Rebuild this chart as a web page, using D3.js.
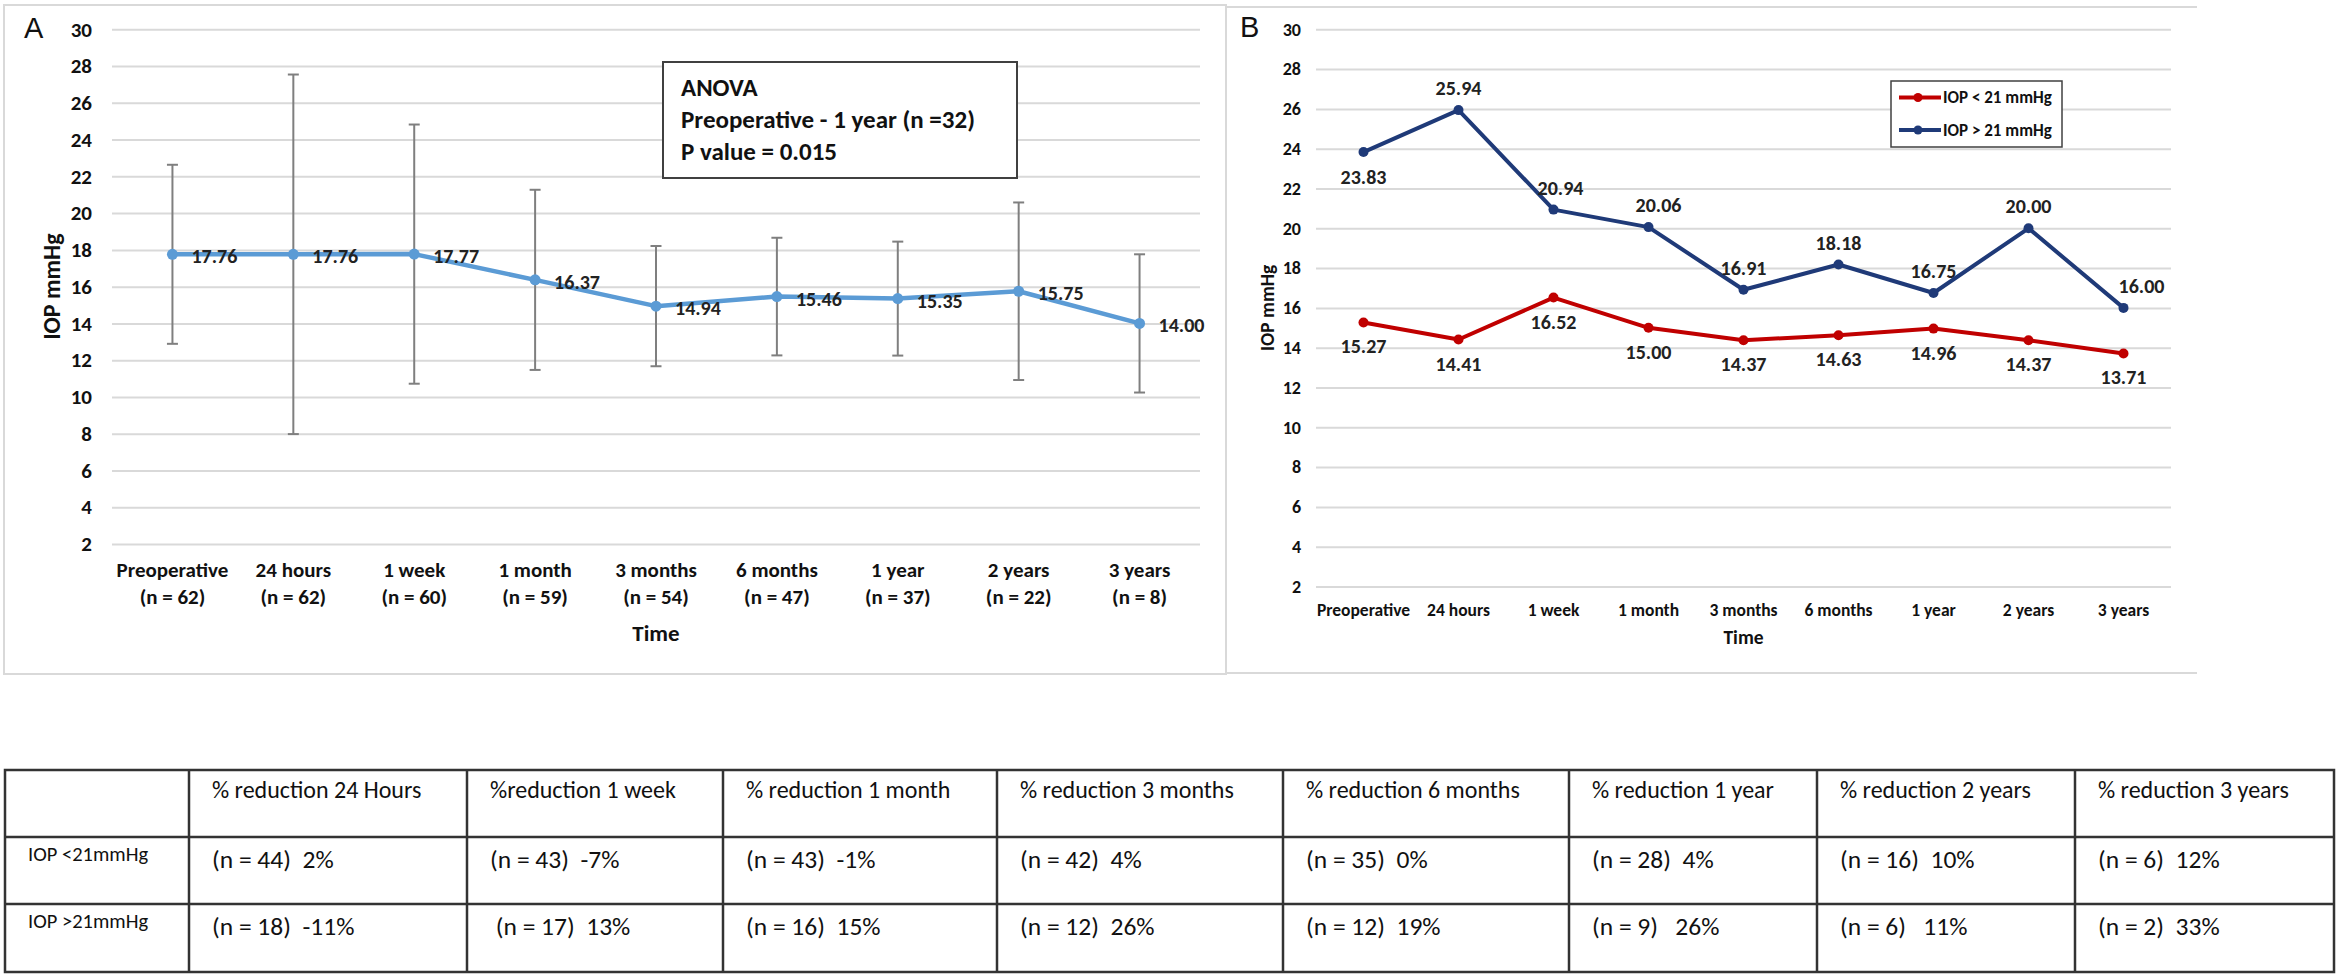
<!DOCTYPE html>
<html>
<head>
<meta charset="utf-8">
<script src="https://cdn.jsdelivr.net/npm/d3@7"></script>
<style>
  html, body { margin: 0; padding: 0; background: #fff; }
  svg { display: block; }
  text { font-family: Carlito, Lato, "Open Sans", sans-serif; }
</style>
</head>
<body>
<svg id="chart" width="2341" height="978"></svg>
<script>
// ---------------- DATA ----------------
const timepoints = ["Preoperative", "24 hours", "1 week", "1 month", "3 months", "6 months", "1 year", "2 years", "3 years"];
const nPatients = [62, 62, 60, 59, 54, 47, 37, 22, 8];
const meanIOP = [17.76, 17.76, 17.77, 16.37, 14.94, 15.46, 15.35, 15.75, 14.00];
const sdIOP = [4.87, 9.78, 7.05, 4.90, 3.27, 3.20, 3.10, 4.83, 3.76];
const yTicks = [2, 4, 6, 8, 10, 12, 14, 16, 18, 20, 22, 24, 26, 28, 30];

const seriesNames = ["IOP < 21 mmHg", "IOP > 21 mmHg"];
const lowIOP = [15.27, 14.41, 16.52, 15.00, 14.37, 14.63, 14.96, 14.37, 13.71];
const highIOP = [23.83, 25.94, 20.94, 20.06, 16.91, 18.18, 16.75, 20.00, 16.00];

const anovaLines = ["ANOVA", "Preoperative - 1 year (n =32)", "P value = 0.015"];

const tableHeaders = ["", "% reduction 24 Hours", "%reduction 1 week", "% reduction 1 month", "% reduction 3 months", "% reduction 6 months", "% reduction 1 year", "% reduction 2 years", "% reduction 3 years"];
const rowLabels = ["IOP <21mmHg", "IOP >21mmHg"];
const lowN = [44, 43, 43, 42, 35, 28, 16, 6];
const lowPct = ["2%", "-7%", "-1%", "4%", "0%", "4%", "10%", "12%"];
const highN = [18, 17, 16, 12, 12, 9, 6, 2];
const highPct = ["-11%", "13%", "15%", "26%", "19%", "26%", "11%", "33%"];

// ---------------- DRAW ----------------
const svg = d3.select("#chart");
svg.append("rect").attr("width", 2341).attr("height", 978).attr("fill", "#fff");

const GRID = "#d9d9d9";
const TXT = "#111";

// ===== Panel A =====
const gA = svg.append("g");
gA.append("rect").attr("x", 4).attr("y", 5).attr("width", 1222).attr("height", 669)
  .attr("fill", "none").attr("stroke", GRID).attr("stroke-width", 2);
gA.append("text").attr("x", 24).attr("y", 38).attr("font-size", 29).attr("fill", TXT)
  .style("font-family", "'Liberation Sans', Arial, sans-serif").text("A");

const xA = d3.scaleBand().domain(timepoints).range([112, 1200]);
const yA = d3.scaleLinear().domain([2, 30]).range([544, 29.3]);
const cxA = d => xA(d) + xA.bandwidth() / 2;

const axA = gA.append("g").attr("transform", "translate(112,0)")
  .call(d3.axisLeft(yA).tickValues(yTicks).tickSize(-(1200 - 112)).tickPadding(20));
axA.select(".domain").remove();
axA.selectAll(".tick line").attr("stroke", GRID).attr("stroke-width", 2);
axA.selectAll(".tick text").attr("font-size", 21).attr("font-weight", "bold").attr("fill", TXT)
  .style("font-family", "Carlito, Lato, sans-serif");

// x labels (two lines)
const xlA = gA.append("g").attr("transform", "translate(0,544)")
  .call(d3.axisBottom(xA).tickSize(0).tickFormat(""));
xlA.select(".domain").remove();
xlA.selectAll(".tick").each(function(d, i) {
  const g = d3.select(this);
  g.append("text").attr("text-anchor", "middle").attr("y", 33)
    .attr("font-size", 21).attr("font-weight", "bold").attr("fill", TXT).text(d);
  g.append("text").attr("text-anchor", "middle").attr("y", 60)
    .attr("font-size", 21).attr("font-weight", "bold").attr("fill", TXT).text("(n = " + nPatients[i] + ")");
});
gA.append("text").attr("x", (112 + 1200) / 2).attr("y", 641).attr("text-anchor", "middle")
  .attr("font-size", 23).attr("font-weight", "bold").attr("fill", TXT).text("Time");
gA.append("text").attr("transform", "translate(60," + ((29.3 + 544) / 2) + ") rotate(-90)")
  .attr("text-anchor", "middle").attr("font-size", 24).attr("font-weight", "bold").attr("fill", TXT)
  .text("IOP mmHg");

// error bars
const eb = gA.append("g").attr("stroke", "#7f7f7f").attr("stroke-width", 2);
timepoints.forEach((d, i) => {
  const x = cxA(d), y1 = yA(meanIOP[i] + sdIOP[i]), y2 = yA(meanIOP[i] - sdIOP[i]);
  eb.append("line").attr("x1", x).attr("x2", x).attr("y1", y1).attr("y2", y2);
  eb.append("line").attr("x1", x - 5.5).attr("x2", x + 5.5).attr("y1", y1).attr("y2", y1);
  eb.append("line").attr("x1", x - 5.5).attr("x2", x + 5.5).attr("y1", y2).attr("y2", y2);
});

const lineA = d3.line().x((d, i) => cxA(timepoints[i])).y(d => yA(d));
gA.append("path").datum(meanIOP).attr("d", lineA).attr("fill", "none")
  .attr("stroke", "#5b9bd5").attr("stroke-width", 4.5).attr("stroke-linejoin", "round");
gA.selectAll(".ptA").data(meanIOP).join("circle")
  .attr("cx", (d, i) => cxA(timepoints[i])).attr("cy", d => yA(d)).attr("r", 5.5).attr("fill", "#5b9bd5");
gA.selectAll(".lblA").data(meanIOP).join("text")
  .attr("x", (d, i) => cxA(timepoints[i]) + 19).attr("y", d => yA(d) + 2)
  .attr("dominant-baseline", "central").attr("font-size", 20).attr("font-weight", "bold")
  .attr("fill", "#222").text(d => d.toFixed(2));

// ANOVA box
gA.append("rect").attr("x", 663).attr("y", 62).attr("width", 354).attr("height", 116)
  .attr("fill", "#fff").attr("stroke", "#404040").attr("stroke-width", 2);
anovaLines.forEach((s, i) => {
  gA.append("text").attr("x", 681).attr("y", 96 + i * 32).attr("font-size", 25)
    .attr("font-weight", "bold").attr("fill", TXT).text(s);
});

// ===== Panel B =====
const gB = svg.append("g");
gB.append("line").attr("x1", 1226).attr("x2", 2197).attr("y1", 7).attr("y2", 7).attr("stroke", GRID).attr("stroke-width", 2);
gB.append("line").attr("x1", 1226).attr("x2", 2197).attr("y1", 673).attr("y2", 673).attr("stroke", GRID).attr("stroke-width", 2);
gB.append("text").attr("x", 1240).attr("y", 37).attr("font-size", 29).attr("fill", TXT)
  .style("font-family", "'Liberation Sans', Arial, sans-serif").text("B");

const xB = d3.scaleBand().domain(timepoints).range([1316, 2171]);
const yB = d3.scaleLinear().domain([2, 30]).range([586.5, 29.3]);
const cxB = d => xB(d) + xB.bandwidth() / 2;

const axB = gB.append("g").attr("transform", "translate(1316,0)")
  .call(d3.axisLeft(yB).tickValues(yTicks).tickSize(-(2171 - 1316)).tickPadding(15));
axB.select(".domain").remove();
axB.selectAll(".tick line").attr("stroke", GRID).attr("stroke-width", 2);
axB.selectAll(".tick text").attr("font-size", 18).attr("font-weight", "bold").attr("fill", TXT)
  .style("font-family", "Carlito, Lato, sans-serif");

const xlB = gB.append("g").attr("transform", "translate(0,586.5)")
  .call(d3.axisBottom(xB).tickSize(0).tickPadding(17));
xlB.select(".domain").remove();
xlB.selectAll(".tick text").attr("font-size", 17.5).attr("font-weight", "bold").attr("fill", TXT)
  .style("font-family", "Carlito, Lato, sans-serif");
gB.append("text").attr("x", (1316 + 2171) / 2).attr("y", 644).attr("text-anchor", "middle")
  .attr("font-size", 19.5).attr("font-weight", "bold").attr("fill", TXT).text("Time");
gB.append("text").attr("transform", "translate(1274," + ((29.3 + 586.5) / 2) + ") rotate(-90)")
  .attr("text-anchor", "middle").attr("font-size", 19.5).attr("font-weight", "bold").attr("fill", TXT)
  .text("IOP mmHg");

const colors = ["#c00000", "#1f3a78"];
const lineB = d3.line().x((d, i) => cxB(timepoints[i])).y(d => yB(d));
[lowIOP, highIOP].forEach((vals, s) => {
  gB.append("path").datum(vals).attr("d", lineB).attr("fill", "none")
    .attr("stroke", colors[s]).attr("stroke-width", 4).attr("stroke-linejoin", "round");
  gB.selectAll(".pt" + s).data(vals).join("circle")
    .attr("cx", (d, i) => cxB(timepoints[i])).attr("cy", d => yB(d)).attr("r", 5).attr("fill", colors[s]);
});
// labels
gB.selectAll(".lblLow").data(lowIOP).join("text")
  .attr("x", (d, i) => cxB(timepoints[i])).attr("y", d => yB(d) + 24)
  .attr("text-anchor", "middle").attr("dominant-baseline", "central")
  .attr("font-size", 20).attr("font-weight", "bold").attr("fill", "#222").text(d => d.toFixed(2));
const hiDx = [0, 0, 7, 10, 0, 0, 0, 0, 18];
gB.selectAll(".lblHigh").data(highIOP).join("text")
  .attr("x", (d, i) => cxB(timepoints[i]) + hiDx[i]).attr("y", (d, i) => yB(d) + (i === 0 ? 25 : -22))
  .attr("text-anchor", "middle").attr("dominant-baseline", "central")
  .attr("font-size", 20).attr("font-weight", "bold").attr("fill", "#222").text(d => d.toFixed(2));

// legend
const lg = gB.append("g");
lg.append("rect").attr("x", 1891).attr("y", 81).attr("width", 171).attr("height", 66)
  .attr("fill", "#fff").attr("stroke", "#404040").attr("stroke-width", 1.5);
seriesNames.forEach((s, i) => {
  const y = 97.5 + i * 32.5;
  lg.append("line").attr("x1", 1899).attr("x2", 1941).attr("y1", y).attr("y2", y)
    .attr("stroke", colors[i]).attr("stroke-width", 4);
  lg.append("circle").attr("cx", 1918).attr("cy", y).attr("r", 4.5).attr("fill", colors[i]);
  lg.append("text").attr("x", 1943).attr("y", y).attr("dominant-baseline", "central")
    .attr("font-size", 17).attr("font-weight", "bold").attr("fill", TXT).text(s);
});

// ===== Table =====
const colEdges = [5, 189, 467, 723, 997, 1283, 1569, 1817, 2075, 2334];
const rowEdges = [770, 837, 904, 972];
const gT = svg.append("g");
gT.append("rect").attr("x", colEdges[0]).attr("y", rowEdges[0])
  .attr("width", colEdges[colEdges.length - 1] - colEdges[0]).attr("height", rowEdges[3] - rowEdges[0])
  .attr("fill", "none").attr("stroke", "#333").attr("stroke-width", 2.5);
colEdges.slice(1, -1).forEach(x => gT.append("line").attr("x1", x).attr("x2", x)
  .attr("y1", rowEdges[0]).attr("y2", rowEdges[3]).attr("stroke", "#333").attr("stroke-width", 2.5));
rowEdges.slice(1, -1).forEach(y => gT.append("line").attr("x1", colEdges[0]).attr("x2", colEdges[colEdges.length - 1])
  .attr("y1", y).attr("y2", y).attr("stroke", "#333").attr("stroke-width", 2.5));

tableHeaders.forEach((h, c) => {
  if (!h) return;
  gT.append("text").attr("x", colEdges[c] + 23).attr("y", 789).attr("dominant-baseline", "central")
    .attr("font-size", 24).attr("fill", TXT).style("font-family", "Carlito, Lato, sans-serif").text(h);
});
rowLabels.forEach((r, i) => {
  gT.append("text").attr("x", 28).attr("y", 854 + i * 67).attr("dominant-baseline", "central")
    .attr("font-size", 20.5).attr("fill", TXT).text(r);
});
lowN.forEach((n, c) => {
  gT.append("text").attr("x", colEdges[c + 1] + 23).attr("y", 859).attr("dominant-baseline", "central")
    .attr("font-size", 25.5).attr("fill", TXT).style("white-space", "pre").text("(n = " + n + ")  " + lowPct[c]);
});
highN.forEach((n, c) => {
  const lead = c === 1 ? " " : "";
  const gap = (c === 5 || c === 6) ? "   " : "  ";
  gT.append("text").attr("x", colEdges[c + 1] + 23).attr("y", 926).attr("dominant-baseline", "central")
    .attr("font-size", 25.5).attr("fill", TXT).style("white-space", "pre").text(lead + "(n = " + n + ")" + gap + highPct[c]);
});
</script>
</body>
</html>
